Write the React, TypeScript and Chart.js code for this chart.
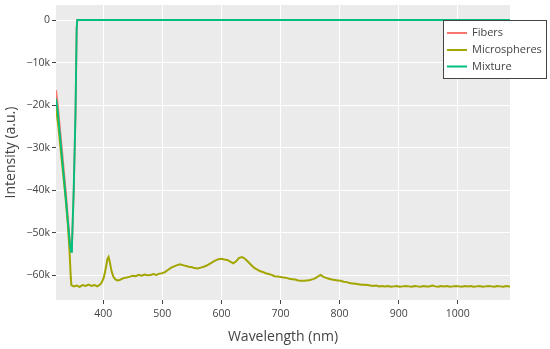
import React, { useEffect, useRef } from "react";
import { Chart, registerables } from "chart.js";

Chart.register(...registerables);

// ---------- data ----------
const seriesNames = ["Fibers", "Microspheres", "Mixture"];
const seriesColors = ["#F8766D", "#A3A500", "#00BF7D"];

const fibersWl = [320, 323, 327, 332, 337, 341, 344, 345.5, 347, 350, 353, 355, 356, 1088.5];
const fibersVal = [-16500, -20000, -26000, -33500, -41000, -48000, -53000, -54300, -53000, -40000, -22000, -2000, 0, 0];

const mixtureWl = [320, 323, 327, 332, 337, 341, 344, 345.5, 347, 350, 353, 355, 356, 1088.5];
const mixtureVal = [-18500, -21500, -27500, -35000, -42500, -48800, -53200, -54500, -53000, -40000, -22000, -2000, 0, 0];

const microWl = [
  320, 324, 328, 332, 336, 340, 343, 345, 346, 350, 355, 360, 365, 370, 375, 380, 385, 390, 395, 398,
  401, 404, 407, 409, 411, 414, 417, 420, 424, 428, 432, 436, 440, 445, 450, 455, 460, 465, 470, 475,
  480, 485, 490, 495, 500, 505, 510, 515, 520, 525, 530, 535, 540, 545, 550, 555, 560, 565, 570, 575,
  580, 585, 590, 595, 600, 605, 610, 615, 620, 625, 630, 635, 640, 645, 650, 655, 660, 665, 670, 675,
  680, 685, 690, 695, 700, 705, 710, 715, 720, 725, 730, 735, 740, 745, 750, 755, 760, 765, 768, 772,
  777, 782, 787, 792, 797, 802, 807, 812, 817, 822, 827, 832, 837, 842, 847, 852, 857, 862, 867, 872,
  877, 882, 887, 892, 897, 902, 907, 912, 917, 922, 927, 932, 937, 942, 947, 952, 957, 962, 967, 972,
  977, 982, 987, 992, 997, 1002, 1007, 1012, 1017, 1022, 1027, 1032, 1037, 1042, 1047, 1052, 1057, 1062, 1067, 1072,
  1077, 1082, 1087, 1088.5,
];
const microVal = [
  -20500, -25000, -30500, -36000, -41500, -48000, -54500, -60500, -62300, -62600, -62400, -62700, -62300, -62500, -62200, -62500, -62300, -62600, -62100, -61500,
  -60500, -58500, -56200, -55700, -56800, -59000, -60300, -60900, -61200, -61100, -60800, -60600, -60500, -60300, -60100, -60200, -59900, -60100, -59800, -60000,
  -59900, -59700, -59900, -59600, -59500, -59200, -58700, -58200, -57900, -57600, -57400, -57600, -57800, -58000, -58100, -58300, -58400, -58200, -58000, -57700,
  -57300, -56900, -56500, -56200, -56100, -56300, -56400, -56800, -57200, -56700, -55900, -55700, -56100, -56800, -57500, -58200, -58600, -59000, -59200, -59500,
  -59700, -59900, -60200, -60300, -60400, -60500, -60600, -60800, -60900, -61000, -61200, -61300, -61300, -61200, -61100, -60900, -60600, -60100, -59900, -60300,
  -60600, -60800, -61000, -61100, -61200, -61300, -61500, -61600, -61800, -61900, -62000, -62100, -62200, -62200, -62300, -62400, -62500, -62400, -62600, -62500,
  -62600, -62500, -62700, -62600, -62500, -62700, -62600, -62500, -62600, -62700, -62500, -62600, -62700, -62500, -62600, -62600, -62400, -62600, -62700, -62500,
  -62600, -62500, -62700, -62600, -62500, -62600, -62700, -62500, -62600, -62500, -62700, -62600, -62500, -62700, -62600, -62500, -62600, -62700, -62500, -62600,
  -62700, -62500, -62600, -62600,
];

const xTickValues = [400, 500, 600, 700, 800, 900, 1000];
const xTickLabels = ["400", "500", "600", "700", "800", "900", "1000"];
const yTickValues = [0, -10000, -20000, -30000, -40000, -50000, -60000];
const yTickLabels = ["0", "\u221210k", "\u221220k", "\u221230k", "\u221240k", "\u221250k", "\u221260k"];

const xTitle = "Wavelength (nm)";
const yTitle = "Intensity (a.u.)";

const FONT = "'Open Sans', 'Noto Sans', sans-serif";

function toPoints(xs: number[], ys: number[]) {
  return xs.map((x, i) => ({ x, y: ys[i] }));
}

const panelBg = {
  id: "panelBg",
  beforeDraw(chart: any) {
    const { ctx, chartArea } = chart;
    ctx.save();
    ctx.fillStyle = "#EBEBEB";
    ctx.fillRect(chartArea.left, chartArea.top, chartArea.right - chartArea.left, chartArea.bottom - chartArea.top);
    ctx.restore();
  },
};

const boxLegend = {
  id: "boxLegend",
  afterDraw(chart: any) {
    const { ctx } = chart;
    const x0 = 443.5;
    const y0 = 20.5;
    const w = 103;
    const h = 58;
    ctx.save();
    ctx.fillStyle = "#ffffff";
    ctx.fillRect(x0, y0, w, h);
    ctx.strokeStyle = "#444444";
    ctx.lineWidth = 1;
    ctx.strokeRect(x0, y0, w, h);
    const ys = [33, 50, 66.5];
    chart.data.datasets.forEach((ds: any, i: number) => {
      ctx.strokeStyle = ds.borderColor;
      ctx.lineWidth = 2;
      ctx.beginPath();
      ctx.moveTo(447, ys[i]);
      ctx.lineTo(467, ys[i]);
      ctx.stroke();
      ctx.fillStyle = "#444444";
      ctx.font = `11px ${FONT}`;
      ctx.textAlign = "left";
      ctx.textBaseline = "middle";
      ctx.fillText(ds.label, 472, ys[i]);
    });
    ctx.restore();
  },
};

export default function App() {
  const ref = useRef<HTMLCanvasElement>(null);
  useEffect(() => {
    if (!ref.current) return;
    const chart = new Chart(ref.current, {
      type: "line",
      data: {
        datasets: [
          {
            label: seriesNames[0],
            data: toPoints(fibersWl, fibersVal),
            borderColor: seriesColors[0],
            backgroundColor: seriesColors[0],
            borderWidth: 1.9,
            pointRadius: 0,
            tension: 0,
            order: 3,
          },
          {
            label: seriesNames[1],
            data: toPoints(microWl, microVal),
            borderColor: seriesColors[1],
            backgroundColor: seriesColors[1],
            borderWidth: 2,
            pointRadius: 0,
            tension: 0,
            order: 2,
          },
          {
            label: seriesNames[2],
            data: toPoints(mixtureWl, mixtureVal),
            borderColor: seriesColors[2],
            backgroundColor: seriesColors[2],
            borderWidth: 1.9,
            pointRadius: 0,
            tension: 0,
            order: 1,
          },
        ],
      },
      options: {
        animation: false,
        responsive: false,
        devicePixelRatio: 1,
        parsing: false as any,
        layout: { padding: { top: 5, right: 40, left: 0, bottom: 0 } },
        plugins: {
          legend: { display: false },
          tooltip: { enabled: false },
        },
        scales: {
          x: {
            type: "linear",
            min: 320,
            max: 1088.5,
            afterFit(scale: any) {
              scale.height = 49;
              scale.paddingLeft = 0;
              scale.paddingRight = 0;
            },
            afterBuildTicks(scale: any) {
              scale.ticks = xTickValues.map((v) => ({ value: v }));
            },
            ticks: {
              autoSkip: false,
              maxRotation: 0,
              padding: 4,
              color: "#444444",
              font: { family: FONT, size: 10.5 },
              callback: (v: any) => {
                const i = xTickValues.indexOf(Number(v));
                return i >= 0 ? xTickLabels[i] : "";
              },
            },
            grid: {
              color: "#ffffff",
              lineWidth: 1,
              drawTicks: true,
              tickLength: 4,
              tickColor: "#444444",
              tickWidth: 1,
            },
            border: { display: false },
            title: {
              display: true,
              text: xTitle,
              color: "#444444",
              font: { family: FONT, size: 14 },
              padding: { top: 0, bottom: 3.6 },
            },
          },
          y: {
            type: "linear",
            min: -65800,
            max: 3530,
            afterFit(scale: any) {
              scale.width = 56;
              scale.paddingTop = 0;
              scale.paddingBottom = 0;
            },
            afterBuildTicks(scale: any) {
              scale.ticks = yTickValues.map((v) => ({ value: v }));
            },
            ticks: {
              autoSkip: false,
              padding: 2,
              color: "#444444",
              font: { family: FONT, size: 10.5 },
              callback: (v: any) => {
                const i = yTickValues.indexOf(Number(v));
                return i >= 0 ? yTickLabels[i] : "";
              },
            },
            grid: {
              color: "#ffffff",
              lineWidth: 1,
              drawTicks: true,
              tickLength: 4,
              tickColor: "#444444",
              tickWidth: 1,
            },
            border: { display: false },
            title: {
              display: true,
              text: yTitle,
              color: "#444444",
              font: { family: FONT, size: 14 },
              padding: { top: 2.6, bottom: 0 },
            },
          },
        },
      },
      plugins: [panelBg, boxLegend],
    });
    return () => chart.destroy();
  }, []);
  return (
    <div style={{ position: "fixed", left: 0, top: 0, width: 550, height: 349, background: "#ffffff" }}>
      <canvas ref={ref} width={550} height={349} style={{ width: 550, height: 349, display: "block" }} />
    </div>
  );
}
